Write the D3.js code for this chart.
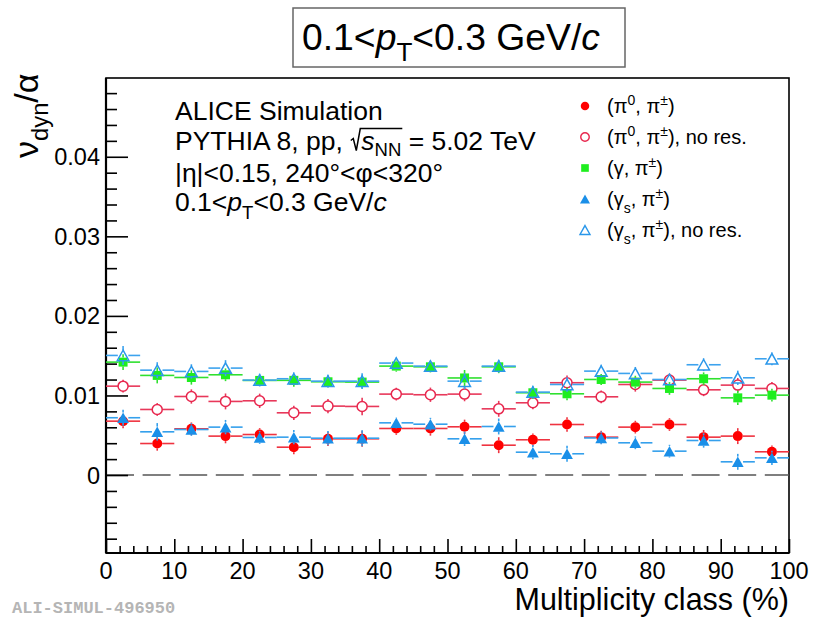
<!DOCTYPE html>
<html>
<head>
<meta charset="utf-8">
<script src="https://cdn.jsdelivr.net/npm/d3@7/dist/d3.min.js"></script>
<style>
  html, body { margin: 0; padding: 0; background: #fff; }
  svg { display: block; }
  text { font-family: "Liberation Sans", Arial, Helvetica, sans-serif; fill: #000; white-space: pre; }
</style>
</head>
<body>
<svg id="chart" width="813" height="618"></svg>
<script>
// Multiplicity-class bin centres (%) and half-widths
const binCenters = [2.5, 7.5, 12.5, 17.5, 22.5, 27.5, 32.5, 37.5, 42.5, 47.5,
                    52.5, 57.5, 62.5, 67.5, 72.5, 77.5, 82.5, 87.5, 92.5, 97.5];
const binHalfWidth = 2.5;

// nu_dyn / alpha for each pair type
const pi0Pi = [0.00677, 0.00396, 0.00581, 0.00489, 0.00509, 0.00350, 0.00455, 0.00455, 0.00585, 0.00585,
               0.00606, 0.00375, 0.00443, 0.00635, 0.00476, 0.00602, 0.00635, 0.00476, 0.00489, 0.00292];
const pi0PiErr = [0.0009, 0.0009, 0.0008, 0.0009, 0.0008, 0.0009, 0.0009, 0.0010, 0.0008, 0.0009,
                  0.0009, 0.0010, 0.0008, 0.0009, 0.0008, 0.0008, 0.0008, 0.0009, 0.0010, 0.0008];

const pi0PiNoRes = [0.01117, 0.00824, 0.00987, 0.00925, 0.00933, 0.00782, 0.00866, 0.00862, 0.01017, 0.01009,
                    0.01017, 0.00832, 0.00908, 0.01160, 0.00983, 0.01138, 0.01193, 0.01071, 0.01130, 0.01088];
const pi0PiNoResErr = [0.0008, 0.0008, 0.0009, 0.0010, 0.0009, 0.0009, 0.0009, 0.0011, 0.0008, 0.0009,
                       0.0009, 0.0010, 0.0008, 0.0009, 0.0008, 0.0009, 0.0008, 0.0008, 0.0009, 0.0008];

const gammaPi = [0.01419, 0.01252, 0.01226, 0.01260, 0.01189, 0.01190, 0.01172, 0.01168, 0.01369, 0.01360,
                 0.01220, 0.01360, 0.01034, 0.01021, 0.01201, 0.01168, 0.01088, 0.01210, 0.00970, 0.01004];
const gammaPiErr = [0.0010, 0.0010, 0.0009, 0.0008, 0.0007, 0.0008, 0.0007, 0.0008, 0.0007, 0.0007,
                    0.0010, 0.0008, 0.0008, 0.0008, 0.0007, 0.0008, 0.0008, 0.0008, 0.0009, 0.0008];

const gammaSPi = [0.00720, 0.00543, 0.00572, 0.00602, 0.00472, 0.00476, 0.00463, 0.00463, 0.00656, 0.00639,
                  0.00455, 0.00610, 0.00287, 0.00267, 0.00466, 0.00405, 0.00300, 0.00434, 0.00166, 0.00216];
const gammaSPiErr = [0.0010, 0.0011, 0.0008, 0.0009, 0.0008, 0.0009, 0.0009, 0.0010, 0.0007, 0.0008,
                     0.0009, 0.0010, 0.0009, 0.0010, 0.0008, 0.0008, 0.0008, 0.0009, 0.0010, 0.0009];

const gammaSPiNoRes = [0.01503, 0.01318, 0.01302, 0.01344, 0.01193, 0.01210, 0.01180, 0.01180, 0.01407, 0.01369,
                       0.01180, 0.01369, 0.01042, 0.01138, 0.01306, 0.01277, 0.01201, 0.01386, 0.01222, 0.01461];
const gammaSPiNoResErr = [0.0012, 0.0010, 0.0009, 0.0010, 0.0008, 0.0008, 0.0008, 0.0010, 0.0007, 0.0007,
                          0.0010, 0.0008, 0.0008, 0.0009, 0.0008, 0.0008, 0.0007, 0.0008, 0.0009, 0.0008];

// Axis ticks
const xMajorTicks = [0, 10, 20, 30, 40, 50, 60, 70, 80, 90, 100];
const yMajorTicks = [0, 0.01, 0.02, 0.03, 0.04];
const yTickLabels = ["0", "0.01", "0.02", "0.03", "0.04"];

const svg = d3.select("#chart");
const frame = { left: 106, right: 789, top: 78, bottom: 553 };

const x = d3.scaleLinear().domain([0, 100]).range([frame.left, frame.right]);
const y = d3.scaleLinear().domain([-0.0098, 0.0499]).range([frame.bottom, frame.top]);

// ---------- helper: sequential text runs (sub/superscripts, italics) ----------
function drawRuns(g, x0, baseY, runs, baseSize) {
  let cx = x0;
  const pos = [];
  runs.forEach(r => {
    const size = r.size ? r.size * baseSize : baseSize;
    const t = g.append("text")
      .attr("x", cx)
      .attr("y", baseY + (r.dy || 0) * baseSize)
      .attr("font-size", size)
      .attr("font-style", r.italic ? "italic" : "normal")
      .text(r.t);
    const w = t.node().getComputedTextLength();
    pos.push({ start: cx, end: cx + w });
    cx += w + (r.gapAfter || 0);
  });
  return { end: cx, pos };
}

// ---------- frame ----------
svg.append("rect")
  .attr("x", frame.left).attr("y", frame.top)
  .attr("width", frame.right - frame.left).attr("height", frame.bottom - frame.top)
  .attr("fill", "#fff").attr("stroke", "#000").attr("stroke-width", 1.6);

// zero reference line
svg.append("line")
  .attr("x1", frame.left).attr("x2", frame.right)
  .attr("y1", y(0)).attr("y2", y(0))
  .attr("stroke", "#555").attr("stroke-width", 1.4)
  .attr("stroke-dasharray", "28,8.6");

// ---------- axes ----------
const yMinor = d3.range(-8, 50, 2).filter(v => v % 10 !== 0).map(v => v / 1000);
const xMinor = d3.range(2, 100, 2).filter(v => v % 10 !== 0);

const yAxisMinor = d3.axisRight(y).tickValues(yMinor).tickSize(11).tickFormat("");
const yAxisMajor = d3.axisRight(y).tickValues(yMajorTicks).tickSize(22).tickFormat("");
const xAxisMinor = d3.axisTop(x).tickValues(xMinor).tickSize(7).tickFormat("");
const xAxisMajor = d3.axisTop(x).tickValues(xMajorTicks).tickSize(14).tickFormat("");

[yAxisMinor, yAxisMajor].forEach(ax => {
  const g = svg.append("g").attr("transform", `translate(${frame.left},0)`).call(ax);
  g.select(".domain").remove();
  g.selectAll(".tick line").attr("stroke", "#000").attr("stroke-width", 1.6);
});
[xAxisMinor, xAxisMajor].forEach(ax => {
  const g = svg.append("g").attr("transform", `translate(0,${frame.bottom})`).call(ax);
  g.select(".domain").remove();
  g.selectAll(".tick line").attr("stroke", "#000").attr("stroke-width", 1.6);
});

// axis lines
svg.append("line").attr("x1", frame.left).attr("x2", frame.left)
  .attr("y1", frame.top).attr("y2", frame.bottom).attr("stroke", "#000").attr("stroke-width", 2.2);
svg.append("line").attr("x1", frame.left).attr("x2", frame.right)
  .attr("y1", frame.bottom).attr("y2", frame.bottom).attr("stroke", "#000").attr("stroke-width", 2.2);

// tick labels
svg.append("g").selectAll("text").data(yMajorTicks).join("text")
  .attr("x", 100).attr("y", d => y(d) + 8.5)
  .attr("text-anchor", "end").attr("font-size", 23.5)
  .text((d, i) => yTickLabels[i]);

svg.append("g").selectAll("text").data(xMajorTicks).join("text")
  .attr("x", d => x(d)).attr("y", 579)
  .attr("text-anchor", "middle").attr("font-size", 23.5)
  .text(d => d);

// axis titles
svg.append("text")
  .attr("x", frame.right).attr("y", 610)
  .attr("text-anchor", "end").attr("font-size", 30.5)
  .text("Multiplicity class (%)");

const yTitle = svg.append("g").attr("transform", "translate(38,158) rotate(-90)");
drawRuns(yTitle, 0, 0, [
  { t: "ν" },
  { t: "dyn", size: 0.7, dy: 0.28 },
  { t: "/" },
  { t: "α" }
], 34);

// ---------- title box ----------
svg.append("rect")
  .attr("x", 293).attr("y", 8).attr("width", 332).attr("height", 59)
  .attr("fill", "#fff").attr("stroke", "#666").attr("stroke-width", 1.5);
drawRuns(svg.append("g"), 302, 50, [
  { t: "0.1<" },
  { t: "p", italic: true },
  { t: "T", size: 0.7, dy: 0.3 },
  { t: "<0.3 GeV/" },
  { t: "c", italic: true }
], 37.3);

// ---------- annotation block ----------
const info = svg.append("g");
const fs = 26.5;
drawRuns(info, 175, 119.5, [{ t: "ALICE Simulation" }], fs);

const line2 = drawRuns(info, 175, 149.5, [
  { t: "PYTHIA 8, pp, ", gapAfter: 11 },
  { t: "s", italic: true },
  { t: "NN", size: 0.7, dy: 0.26 },
  { t: " = 5.02 TeV" }
], fs);
{
  const rx = line2.pos[0].end + 0.5;
  const bx = line2.pos[2].end + 1;
  const by = 149.5;
  info.append("path")
    .attr("d", `M${rx},${by - 9} L${rx + 2.5},${by - 11} L${rx + 5.5},${by + 1} L${rx + 9.5},${by - 21} L${bx},${by - 21}`)
    .attr("fill", "none").attr("stroke", "#000").attr("stroke-width", 1.5);
}

drawRuns(info, 175, 181.5, [{ t: "|η|<0.15, 240°<φ<320°" }], fs);

drawRuns(info, 175, 211, [
  { t: "0.1<" },
  { t: "p", italic: true },
  { t: "T", size: 0.7, dy: 0.3 },
  { t: "<0.3 GeV/" },
  { t: "c", italic: true }
], fs);

// ---------- markers ----------
function markerPath(shape, s) {
  if (shape === "circle") {
    const p = d3.path();
    p.arc(0, 0, s / 2, 0, 2 * Math.PI);
    return p.toString();
  }
  if (shape === "square") {
    const h = s / 2;
    return `M${-h},${-h}H${h}V${h}H${-h}Z`;
  }
  // triangle centred on its bounding box
  const w = s * 1.12, hh = s;
  return `M0,${-hh / 2}L${w / 2},${hh / 2}L${-w / 2},${hh / 2}Z`;
}

const series = [
  { name: "pi0Pi", vals: pi0Pi, errs: pi0PiErr, shape: "circle", filled: true, size: 10, color: "#ff0000", line: "#ef3340" },
  { name: "pi0PiNoRes", vals: pi0PiNoRes, errs: pi0PiNoResErr, shape: "circle", filled: false, size: 10, color: "#e8274e", line: "#e8385a" },
  { name: "gammaPi", vals: gammaPi, errs: gammaPiErr, shape: "square", filled: true, size: 9, color: "#1fee1f", line: "#2fe02f" },
  { name: "gammaSPi", vals: gammaSPi, errs: gammaSPiErr, shape: "triangle", filled: true, size: 10.5, color: "#1a8fe8", line: "#35a0ec" },
  { name: "gammaSPiNoRes", vals: gammaSPiNoRes, errs: gammaSPiNoResErr, shape: "triangle", filled: false, size: 10.5, color: "#2a97ea", line: "#3da3ee" }
];

const plot = svg.append("g");
series.forEach(s => {
  const g = plot.append("g").attr("class", s.name);
  const pts = binCenters.map((c, i) => ({ c, v: s.vals[i], e: s.errs[i] }));
  const gap = s.size / 2;
  // horizontal bars (bin width), interrupted at the marker
  g.selectAll("line.hl").data(pts).join("line").attr("class", "hl")
    .attr("x1", d => x(d.c - binHalfWidth)).attr("x2", d => x(d.c) - gap)
    .attr("y1", d => y(d.v)).attr("y2", d => y(d.v))
    .attr("stroke", s.line).attr("stroke-width", 1.6);
  g.selectAll("line.hr").data(pts).join("line").attr("class", "hr")
    .attr("x1", d => x(d.c) + gap).attr("x2", d => x(d.c + binHalfWidth))
    .attr("y1", d => y(d.v)).attr("y2", d => y(d.v))
    .attr("stroke", s.line).attr("stroke-width", 1.6);
  // vertical error bars
  g.selectAll("line.vu").data(pts.filter(d => y(d.v) - y(d.v + d.e) > gap)).join("line").attr("class", "vu")
    .attr("x1", d => x(d.c)).attr("x2", d => x(d.c))
    .attr("y1", d => y(d.v + d.e)).attr("y2", d => y(d.v) - gap)
    .attr("stroke", s.line).attr("stroke-width", 1.6);
  g.selectAll("line.vd").data(pts.filter(d => y(d.v - d.e) - y(d.v) > gap)).join("line").attr("class", "vd")
    .attr("x1", d => x(d.c)).attr("x2", d => x(d.c))
    .attr("y1", d => y(d.v) + gap).attr("y2", d => y(d.v - d.e))
    .attr("stroke", s.line).attr("stroke-width", 1.6);
  // markers
  g.selectAll("path.m").data(pts).join("path").attr("class", "m")
    .attr("transform", d => `translate(${x(d.c)},${y(d.v)})`)
    .attr("d", markerPath(s.shape, s.size))
    .attr("fill", s.filled ? s.color : "none")
    .attr("stroke", s.color).attr("stroke-width", s.filled ? 0 : 1.5);
});

// ---------- legend ----------
const legendLabels = [
  [{ t: "(π" }, { t: "0", size: 0.7, dy: -0.4 }, { t: ", π" }, { t: "±", size: 0.7, dy: -0.4 }, { t: ")" }],
  [{ t: "(π" }, { t: "0", size: 0.7, dy: -0.4 }, { t: ", π" }, { t: "±", size: 0.7, dy: -0.4 }, { t: "), no res." }],
  [{ t: "(γ, π" }, { t: "±", size: 0.7, dy: -0.4 }, { t: ")" }],
  [{ t: "(γ" }, { t: "s", size: 0.7, dy: 0.35 }, { t: ", π" }, { t: "±", size: 0.7, dy: -0.4 }, { t: ")" }],
  [{ t: "(γ" }, { t: "s", size: 0.7, dy: 0.35 }, { t: ", π" }, { t: "±", size: 0.7, dy: -0.4 }, { t: "), no res." }]
];
const legendRows = [106, 137, 168, 199, 230];
const legend = svg.append("g");
legend.append("rect").attr("x", 563).attr("y", 88).attr("width", 178).attr("height", 158).attr("fill", "#fff");
series.forEach((s, i) => {
  legend.append("path")
    .attr("transform", `translate(585,${legendRows[i]})`)
    .attr("d", markerPath(s.shape, s.size * 0.85))
    .attr("fill", s.filled ? s.color : "none")
    .attr("stroke", s.color).attr("stroke-width", s.filled ? 0 : 1.4);
  drawRuns(legend, 607, legendRows[i] + 7, legendLabels[i], 20);
});

// ---------- figure id ----------
svg.append("text")
  .attr("x", 12).attr("y", 613)
  .style("font-family", '"Liberation Mono", "DejaVu Sans Mono", monospace')
  .attr("font-weight", "bold").attr("font-size", 17)
  .style("fill", "#b5b5b5")
  .text("ALI-SIMUL-496950");
</script>
</body>
</html>
